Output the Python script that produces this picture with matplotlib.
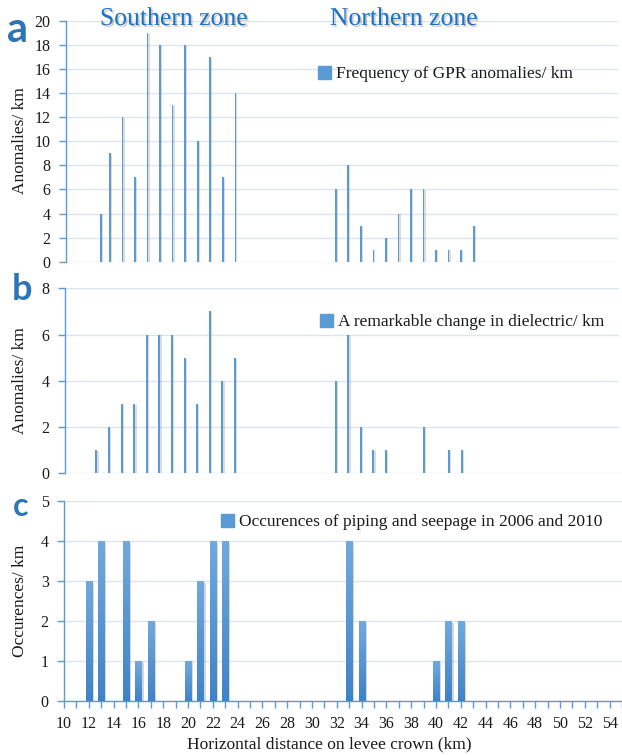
import matplotlib
matplotlib.use("Agg")
import numpy as np
import matplotlib.pyplot as plt
import matplotlib.patheffects as pe
from matplotlib.patches import Patch
from matplotlib.colors import LinearSegmentedColormap
from matplotlib.ticker import MultipleLocator

# Frequency of GPR anomalies per km (panel a)
km_a = [13.3, 14, 15, 16, 17, 18, 19, 20, 21, 22, 23, 24,
        32, 33, 34, 35, 36, 37, 38, 39, 40, 41, 42, 43]
val_a = [4, 9, 12, 7, 19, 18, 13, 18, 10, 17, 7, 14,
         6, 8, 3, 1, 2, 4, 6, 6, 1, 1, 1, 3]

# Remarkable change in dielectric per km (panel b)
km_b = [13, 14, 15, 16, 17, 18, 19, 20, 21, 22, 23, 24,
        32, 33, 34, 35, 36, 39, 41, 42]
val_b = [1, 2, 3, 3, 6, 6, 6, 5, 3, 7, 4, 5,
         4, 6, 2, 1, 1, 2, 1, 1]

# Occurrences of piping and seepage in 2006 and 2010 (panel c)
km_c = [12, 13, 15, 16, 17, 20, 21, 22, 23, 33, 34, 40, 41, 42]
val_c = [3, 4, 4, 1, 2, 1, 3, 4, 4, 4, 2, 1, 2, 2]

legend_a = "Frequency of GPR anomalies/ km"
legend_b = "A remarkable change in dielectric/ km"
legend_c = "Occurences of piping and seepage in 2006 and 2010"
ylabel_ab = "Anomalies/ km"
ylabel_c = "Occurences/ km"
xlabel = "Horizontal distance on levee crown (km)"
zones = ["Southern zone", "Northern zone"]
panel_letters = ["a", "b", "c"]

W, H = 622, 755
BAR = "#5B9BD5"
AXIS = "#5B9BD5"
GRID = "#DCE5EF"
TXT = "#1A1A1A"
ZONE = "#1C72C6"
LETTER = "#2E75B6"
SERIF = "Liberation Serif"

plt.rcParams["font.family"] = SERIF

fig = plt.figure(figsize=(W / 100, H / 100), dpi=100)

bar_cmap = LinearSegmentedColormap.from_list("barfill", ["#3F83C7", "#71A9DE"])


def fx(x):
    return x / W


def fy(y):
    return 1 - y / H


def make_axes(l, r, t, b):
    return fig.add_axes([fx(l), fy(b), fx(r - l), (b - t) / H])


def style(ax, ymax, ystep, xlim):
    ax.set_xlim(*xlim)
    ax.set_ylim(0, ymax)
    ax.yaxis.set_major_locator(MultipleLocator(ystep))
    ax.grid(axis="y", color=GRID, lw=1.0)
    ax.set_axisbelow(True)
    for s in ("top", "right", "bottom"):
        ax.spines[s].set_visible(False)
    ax.spines["left"].set_color(AXIS)
    ax.spines["left"].set_linewidth(1.0)
    ax.tick_params(axis="y", direction="out", length=5, width=1, color=AXIS,
                   labelsize=11.5, labelcolor=TXT, pad=6)


def thin_bars(ax, x, y, width):
    bars = ax.bar(x, y, width=width, color=BAR, zorder=3)
    sh = [pe.SimplePatchShadow(offset=(0.9, -0.6), shadow_rgbFace="#8c8c8c", alpha=0.3), pe.Normal()]
    for p in bars:
        p.set_path_effects(sh)
    return bars


def gradient_bars(ax, x, y, width):
    bars = ax.bar(x, y, width=width, color=BAR, zorder=3)
    sh = [pe.SimplePatchShadow(offset=(1.5, -1.0), shadow_rgbFace="#8c8c8c", alpha=0.35), pe.Normal()]
    grad = np.linspace(0, 1, 64).reshape(-1, 1)
    for p in bars:
        p.set_path_effects(sh)
        x0, w, h = p.get_x(), p.get_width(), p.get_height()
        im = ax.imshow(grad, cmap=bar_cmap, origin="lower", aspect="auto",
                       extent=[x0, x0 + w, 0, h], zorder=4)
        im.set_clip_path(p)
    return bars


def add_legend(ax, label, x_px, y_px):
    ax.legend([Patch(color=BAR)], [label], loc="center left",
              bbox_to_anchor=(fx(x_px), fy(y_px)), bbox_transform=fig.transFigure,
              frameon=False, fontsize=12.5, handlelength=0.75, handleheight=0.75,
              handletextpad=0.3, borderaxespad=0, borderpad=0, labelcolor=TXT)


# panel a
ax_a = make_axes(66, 618, 20.7, 261.7)
thin_bars(ax_a, km_a, val_a, 0.13)
style(ax_a, 20, 2, (10.5, 54.5))
ax_a.set_xticks([])
add_legend(ax_a, legend_a, 318, 74)

# panel b
ax_b = make_axes(65, 619, 288.3, 473.3)
thin_bars(ax_b, km_b, val_b, 0.16)
style(ax_b, 8, 2, (10.5, 54.5))
ax_b.set_xticks([])
add_legend(ax_b, legend_b, 320, 322)

# panel c
ax_c = make_axes(64, 622, 501.3, 701)
gradient_bars(ax_c, km_c, val_c, 0.5)
style(ax_c, 5, 1, (10, 55))
ax_c.spines["bottom"].set_visible(True)
ax_c.spines["bottom"].set_color(AXIS)
ax_c.spines["bottom"].set_linewidth(1.0)
ax_c.set_xticks(range(10, 55, 2))
ax_c.xaxis.set_minor_locator(MultipleLocator(1))
ax_c.tick_params(axis="x", which="both", direction="out", length=5, width=1,
                 color=AXIS, labelsize=11.5, labelcolor=TXT, pad=6)
add_legend(ax_c, legend_c, 221, 522)

# axis titles
fig.text(fx(20), fy(141), ylabel_ab, rotation=90, ha="center", va="center",
         fontsize=12.5, color=TXT)
fig.text(fx(20), fy(381), ylabel_ab, rotation=90, ha="center", va="center",
         fontsize=12.5, color=TXT)
fig.text(fx(20), fy(601), ylabel_c, rotation=90, ha="center", va="center",
         fontsize=12.5, color=TXT)
fig.text(fx(329), fy(744), xlabel, ha="center", va="center", fontsize=12.5,
         color=TXT)

# zone headers
zone_shadow = [pe.withSimplePatchShadow(offset=(1.2, -1.2), shadow_rgbFace="#888888", alpha=0.45)]
fig.text(fx(174), fy(19), zones[0], ha="center", va="center", fontsize=18.5,
         color=ZONE, path_effects=zone_shadow)
fig.text(fx(404), fy(19), zones[1], ha="center", va="center", fontsize=18.5,
         color=ZONE, path_effects=zone_shadow)

# panel letters
fig.text(fx(17), fy(30), panel_letters[0], ha="center", va="center", fontsize=30,
         fontweight="bold", color=LETTER, family="Lato")
fig.text(fx(22), fy(290), panel_letters[1], ha="center", va="center", fontsize=26,
         fontweight="bold", color=LETTER, family="Lato")
fig.text(fx(21), fy(506), panel_letters[2], ha="center", va="center", fontsize=23,
         fontweight="bold", color=LETTER, family="Lato")

fig.savefig("out.png", dpi=100)
